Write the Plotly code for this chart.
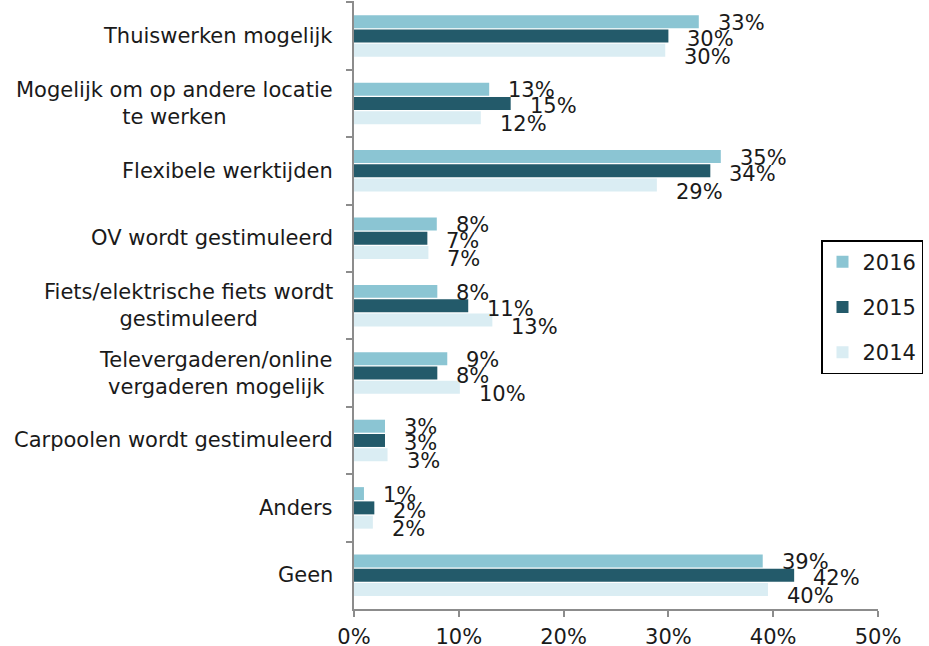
import plotly.graph_objects as go

categories = [
    "Thuiswerken mogelijk",
    "Mogelijk om op andere locatie<br>te werken",
    "Flexibele werktijden",
    "OV wordt gestimuleerd",
    "Fiets/elektrische fiets wordt<br>gestimuleerd",
    "Televergaderen/online<br>vergaderen mogelijk",
    "Carpoolen wordt gestimuleerd",
    "Anders",
    "Geen",
]
series_names = ["2016", "2015", "2014"]
values_2016 = [32.9, 12.9, 35.0, 7.9, 7.95, 8.9, 2.96, 0.95, 39.0]
values_2015 = [30.0, 14.95, 34.0, 7.0, 10.9, 7.95, 2.96, 1.94, 42.0]
values_2014 = [29.7, 12.1, 28.9, 7.1, 13.2, 10.1, 3.2, 1.8, 39.5]
labels_2016 = [33, 13, 35, 8, 8, 9, 3, 1, 39]
labels_2015 = [30, 15, 34, 7, 11, 8, 3, 2, 42]
labels_2014 = [30, 12, 29, 7, 13, 10, 3, 2, 40]
x_ticks = [0, 10, 20, 30, 40, 50]
x_tick_labels = ["0%", "10%", "20%", "30%", "40%", "50%"]

colors = ["#8BC5D3", "#235A6A", "#DAEDF3"]
FONT = "DejaVu Sans, Verdana, sans-serif"
FS = 21

all_vals = [values_2016, values_2015, values_2014]
all_labels = [labels_2016, labels_2015, labels_2014]

fig = go.Figure()
for name, vals, col in zip(series_names, all_vals, colors):
    fig.add_trace(go.Bar(
        y=categories, x=vals, name=name, orientation="h",
        marker=dict(color=col, line=dict(width=0)),
        legendgroup=name,
    ))

annotations = []
# data labels
bar_px_offsets = [-15, 0, 15]
extra_down = [2, 3, 6]
for i, labs in enumerate(all_labels):
    for cat, v, lab in zip(categories, all_vals[i], labs):
        annotations.append(dict(
            x=v, y=cat, xref="x", yref="y", text=f"{lab}%",
            showarrow=False, xanchor="left", yanchor="middle",
            xshift=17, yshift=-(bar_px_offsets[i] + extra_down[i]),
            font=dict(family=FONT, size=FS, color="#1a1a1a"),
        ))
# category labels (centered multi-line)
for cat in categories:
    annotations.append(dict(
        x=0, y=cat, xref="paper", yref="y", text=cat,
        showarrow=False, xanchor="right", yanchor="middle", align="center",
        xshift=-19, font=dict(family=FONT, size=FS, color="#1a1a1a"),
    ))

fig.update_layout(
    width=929, height=646,
    margin=dict(l=354, r=51, t=1, b=37, pad=0, autoexpand=False),
    paper_bgcolor="white", plot_bgcolor="white",
    barmode="group", bargap=0.365, bargroupgap=0.09,
    font=dict(family=FONT, size=FS, color="#1a1a1a"),
    showlegend=True,
    legend=dict(
        x=(821 - 354) / 524, y=1 - (240 - 1) / 608,
        xanchor="left", yanchor="top",
        bordercolor="black", borderwidth=1.5, bgcolor="white",
        font=dict(family=FONT, size=FS, color="#1a1a1a"),
        tracegroupgap=15, itemwidth=30,
    ),
    annotations=annotations,
)
fig.update_xaxes(
    range=[0, 50], tickvals=x_ticks, ticktext=x_tick_labels,
    showgrid=False, zeroline=False,
    showline=True, linecolor="#8c8c8c", linewidth=2,
    ticks="outside", ticklen=6, tickcolor="#8c8c8c", tickwidth=2,
    ticklabelstandoff=2,
    tickfont=dict(family=FONT, size=FS, color="#1a1a1a"),
)
fig.update_yaxes(
    autorange="reversed", showgrid=False, zeroline=False,
    showline=True, linecolor="#8c8c8c", linewidth=2,
    ticks="outside", ticklen=6, tickcolor="#8c8c8c", tickwidth=2,
    tickson="boundaries", showticklabels=False,
)

fig.write_html(
    "out.html",
    config={"displayModeBar": False},
    post_script="document.body.style.margin='0px';document.body.style.overflow='hidden';",
)
